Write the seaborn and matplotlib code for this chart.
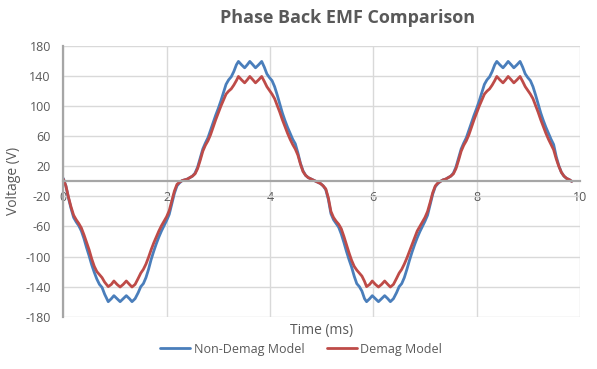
import numpy as np
import pandas as pd
import seaborn as sns
import matplotlib.pyplot as plt

# values (time in ms, voltage in V)
time_ms = [
    0.00, 0.05, 0.10, 0.15, 0.20, 0.25, 0.30, 0.35, 0.40, 0.45, 0.50, 0.55, 0.60, 0.65, 0.70, 0.75, 0.80,
    0.87, 0.93, 0.98, 1.04, 1.10, 1.16, 1.22, 1.28, 1.33, 1.39,
    1.45, 1.50, 1.55, 1.60, 1.65, 1.70, 1.75, 1.80, 1.85, 1.90, 1.95, 2.00, 2.05, 2.10, 2.15, 2.20,
    2.25, 2.30, 2.35, 2.40, 2.45, 2.50, 2.55, 2.60, 2.65, 2.70, 2.75, 2.80, 2.85, 2.90, 2.95, 3.00,
    3.05, 3.10, 3.15, 3.20, 3.25, 3.30, 3.35,
    3.39, 3.45, 3.51, 3.56, 3.61, 3.67, 3.72, 3.78, 3.84,
    3.89, 3.94, 3.99, 4.04, 4.09, 4.14, 4.19, 4.24, 4.29, 4.34, 4.39, 4.44, 4.49, 4.54, 4.59, 4.64,
    4.69, 4.74, 4.80, 4.86, 4.92, 4.98,
    5.03, 5.08, 5.13, 5.18, 5.23, 5.28, 5.33, 5.38, 5.43, 5.48, 5.53, 5.58, 5.63, 5.68, 5.73, 5.78, 5.83,
    5.87, 5.93, 5.98, 6.04, 6.10, 6.16, 6.22, 6.28, 6.33, 6.39,
    6.45, 6.50, 6.55, 6.60, 6.65, 6.70, 6.75, 6.80, 6.85, 6.90, 6.95, 7.00, 7.05, 7.10, 7.15, 7.20,
    7.25, 7.30, 7.35, 7.40, 7.45, 7.50, 7.55, 7.60, 7.65, 7.70, 7.75, 7.80, 7.85, 7.90, 7.95, 8.00,
    8.05, 8.10, 8.15, 8.20, 8.25, 8.30, 8.35,
    8.39, 8.45, 8.51, 8.56, 8.61, 8.67, 8.72, 8.78, 8.84,
    8.89, 8.94, 8.99, 9.04, 9.09, 9.14, 9.19, 9.24, 9.29, 9.34, 9.39, 9.44, 9.49, 9.54, 9.59, 9.64,
    9.69, 9.74, 9.80, 9.84,
]

non_demag_v = [
    4, -6, -22, -36, -48, -54, -59, -66, -76, -88, -99, -111, -121, -130, -137, -141, -150,
    -160, -156, -152, -156, -160, -156, -152, -156, -160, -156,
    -148, -140, -136, -128, -117, -104, -93, -83, -74, -66, -59, -52, -44, -30, -16, -6,
    -2, 1, 2, 3, 5, 7, 11, 19, 31, 43, 51, 58, 68, 78, 88, 97,
    107, 118, 129, 135, 139, 146, 155,
    159.5, 155, 151, 155, 159.5, 155, 151, 155, 159.5,
    152, 143, 138, 134, 126, 115, 103, 91, 81, 72, 64, 56, 50, 38, 24, 14,
    8, 5, 3, 1, -1, -3,
    -6, -11, -24, -43, -51, -56, -61, -70, -81, -93, -104, -114, -126, -136, -140, -146, -156,
    -160, -156, -152, -156, -160, -156, -152, -156, -160, -156,
    -148, -140, -136, -128, -117, -105, -94, -84, -75, -67, -60, -53, -45, -31, -17, -7,
    -3, 0, 2, 3, 5, 7, 11, 19, 31, 43, 51, 58, 68, 78, 88, 97,
    107, 118, 129, 135, 139, 146, 155,
    159.5, 155, 151, 155, 159.5, 155, 151, 155, 159.5,
    152, 143, 138, 134, 126, 115, 103, 91, 81, 72, 64, 56, 49, 33, 21, 12,
    7, 4, 2, 0,
]

demag_v = [
    3, -6, -21, -34, -45, -51, -56, -62, -71, -81, -91, -103, -113, -120, -124, -128, -134,
    -140, -137, -132.5, -137, -140.5, -137, -132.5, -137, -140.5, -137,
    -129, -122, -117, -110, -101, -91, -82, -74, -66, -59, -53, -47, -39, -26, -13, -4,
    -1, 1, 2, 3, 5, 7, 10, 17, 28, 40, 48, 54, 62, 72, 82, 91,
    100, 108, 116, 120, 123, 128, 134,
    139.5, 135, 131, 135, 139.5, 135, 131, 135, 139.5,
    133, 126, 121, 116, 110, 101, 92, 82, 73, 64, 56, 49, 43, 35, 23, 13,
    8, 5, 3, 1, -1, -3,
    -6, -10, -22, -40, -48, -53, -57, -63, -73, -84, -95, -105, -113, -118, -122, -126, -133,
    -140, -137, -132.5, -137, -140.5, -137, -132.5, -137, -140.5, -137,
    -129, -122, -117, -110, -102, -93, -84, -75, -66, -60, -54, -48, -40, -28, -15, -6,
    -2, 0, 2, 3, 5, 7, 10, 17, 28, 40, 48, 54, 62, 72, 82, 91,
    100, 108, 116, 120, 123, 128, 134,
    139.5, 135, 131, 135, 139.5, 135, 131, 135, 139.5,
    133, 126, 121, 116, 110, 101, 92, 82, 73, 64, 56, 49, 42, 30, 20, 12,
    7, 4, 2, 0,
]

series_names = ["Non-Demag Model", "Demag Model"]
series_colors = ["#4A7EBB", "#BE4B48"]
y_ticks = list(range(-180, 181, 40))
x_ticks = [0, 2, 4, 6, 8, 10]

df = pd.concat([
    pd.DataFrame({"Time (ms)": time_ms, "Voltage (V)": non_demag_v, "Model": series_names[0]}),
    pd.DataFrame({"Time (ms)": time_ms, "Voltage (V)": demag_v, "Model": series_names[1]}),
])

sns.set_style("white")
plt.rcParams["font.family"] = ["Open Sans", "DejaVu Sans"]
plt.rcParams["axes.unicode_minus"] = False
txt = "#595959"

fig = plt.figure(figsize=(5.97, 3.69), dpi=100)
ax = fig.add_axes([0.106, 0.1417, 0.8655, 0.7336])

sns.lineplot(data=df, x="Time (ms)", y="Voltage (V)", hue="Model",
             palette=dict(zip(series_names, series_colors)), estimator=None,
             linewidth=2, ax=ax, legend=False)
for ln in ax.get_lines():
    ln.set_solid_joinstyle("round")
    ln.set_solid_capstyle("round")

ax.set_xlim(0, 10)
ax.set_ylim(-180, 180)
ax.set_xticks(x_ticks)
ax.set_yticks(y_ticks)
ax.grid(True, color="#d9d9d9", linewidth=1)
ax.set_axisbelow(True)

for s in ["top", "right"]:
    ax.spines[s].set_visible(False)
ax.spines["bottom"].set_position(("data", 0))
ax.spines["bottom"].set_color("#a6a6a6")
ax.spines["bottom"].set_linewidth(1.6)
ax.spines["left"].set_color("#a6a6a6")
ax.spines["left"].set_linewidth(1.6)

ax.tick_params(axis="y", length=0, pad=9, labelsize=9, labelcolor=txt)
ax.tick_params(axis="x", length=0, pad=7, labelsize=9, labelcolor=txt)

ax.set_xlabel("Time (ms)", fontsize=10, color=txt)
ax.set_ylabel("Voltage (V)", fontsize=10, color=txt)
ax.xaxis.set_label_coords(0.5, -0.025)
ax.yaxis.set_label_coords(-0.082, 0.5)

fig.text(348 / 597, 1 - 18 / 369, "Phase Back EMF Comparison", ha="center", va="center",
         fontsize=13, fontweight="bold", color=txt)

handles = [plt.Line2D([], [], color=c, linewidth=2) for c in series_colors]
fig.legend(handles, series_names, loc="center", bbox_to_anchor=(301 / 597, 1 - 349 / 369),
           ncol=2, frameon=False, fontsize=9, labelcolor=txt,
           handlelength=2.4, handletextpad=0.3, columnspacing=1.8)

fig.savefig("out.png", dpi=100)
